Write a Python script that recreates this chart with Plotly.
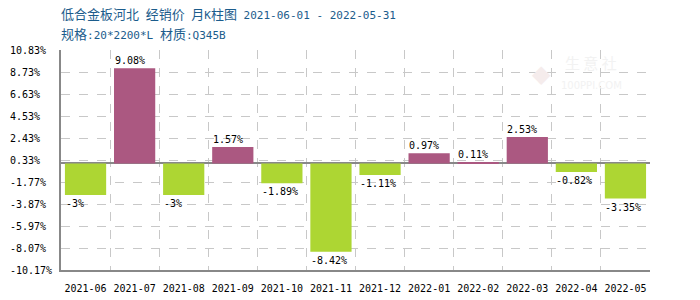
import re
import plotly.graph_objects as go

months = ["2021-06", "2021-07", "2021-08", "2021-09", "2021-10", "2021-11",
          "2021-12", "2022-01", "2022-02", "2022-03", "2022-04", "2022-05"]
changes = [-3, 9.08, -3, 1.57, -1.89, -8.42, -1.11, 0.97, 0.11, 2.53, -0.82, -3.35]
value_labels = ["-3%", "9.08%", "-3%", "1.57%", "-1.89%", "-8.42%", "-1.11%",
                "0.97%", "0.11%", "2.53%", "-0.82%", "-3.35%"]
y_ticks = [-10.17, -8.07, -5.97, -3.87, -1.77, 0.33, 2.43, 4.53, 6.63, 8.73, 10.83]
y_tick_labels = ["-10.17%", "-8.07%", "-5.97%", "-3.87%", "-1.77%", "0.33%",
                 "2.43%", "4.53%", "6.63%", "8.73%", "10.83%"]
title1 = "低合金板河北 经销价 月K柱图 2021-06-01 - 2022-05-31"
title2 = "规格:20*2200*L 材质:Q345B"

POS = "#AB5881"
NEG = "#ADD633"
idx = list(range(len(months)))


def cjk_big(s):
    return re.sub(r"([\u4e00-\u9fff]+)", r'<span style="font-size:13px">\1</span>', s)


fig = go.Figure()
fig.add_trace(go.Bar(
    x=idx, y=changes,
    marker=dict(color=[POS if v > 0 else NEG for v in changes], line=dict(width=0)),
    hoverinfo="skip",
))

mono = "DejaVu Sans Mono"
ann = []
for i, v, t in zip(idx, changes, value_labels):
    ann.append(dict(
        x=i, y=v, xref="x", yref="y", text=t, showarrow=False,
        xanchor="left", xshift=-22,
        yanchor="bottom" if v > 0 else "top",
        yshift=0 if v > 0 else -1,
        font=dict(family=mono, size=10, color="#000000"),
    ))
for yv, lab in zip(y_ticks, y_tick_labels):
    ann.append(dict(
        x=0, y=yv, xref="paper", yref="y", text=lab, showarrow=False,
        xanchor="left", yanchor="middle", xshift=-53,
        font=dict(family=mono, size=10, color="#000000"),
    ))
title_font = dict(family="DejaVu Sans Mono, Noto Sans CJK SC", size=11, color="#1B5C8C")
ann.append(dict(x=0, y=1, xref="paper", yref="paper", text=cjk_big(title1), showarrow=False,
                xanchor="left", yanchor="middle", yshift=36, xshift=-2, font=title_font))
ann.append(dict(x=0, y=1, xref="paper", yref="paper", text=cjk_big(title2), showarrow=False,
                xanchor="left", yanchor="middle", yshift=16, xshift=-2, font=title_font))
# faint watermark
ann.append(dict(x=0.9, y=0.945, xref="paper", yref="paper", text="生 意 社", showarrow=False,
                xanchor="center", yanchor="middle",
                font=dict(family="Noto Sans CJK SC", size=15, color="#F2F2F2")))
ann.append(dict(x=0.9, y=0.84, xref="paper", yref="paper", text="100PPI.COM", showarrow=False,
                xanchor="center", yanchor="middle",
                font=dict(family="DejaVu Sans", size=10, color="#F2F2F2")))
ann.append(dict(x=0.815, y=0.89, xref="paper", yref="paper", text="◆", showarrow=False,
                xanchor="center", yanchor="middle",
                font=dict(family="DejaVu Sans", size=24, color="#F5ECEC")))

fig.update_layout(
    width=700, height=300,
    margin=dict(l=61, r=50, t=50, b=30),
    paper_bgcolor="white", plot_bgcolor="white",
    showlegend=False, bargap=0.16,
    annotations=ann,
    xaxis=dict(
        range=[-0.5, len(months) - 0.5],
        tickmode="array", tickvals=idx, ticktext=months,
        tickfont=dict(family=mono, size=10, color="#000000"),
        showgrid=False, ticks="outside", ticklen=8, tickcolor="rgba(0,0,0,0)",
        showline=True, linecolor="#888888", linewidth=1.5,
        minor=dict(tick0=0.5, dtick=1, showgrid=True, gridcolor="#C8C8C8",
                   griddash="dash", gridwidth=1, ticks=""),
        zeroline=False, automargin=False,
    ),
    yaxis=dict(
        range=[y_ticks[0], y_ticks[-1]],
        tickmode="array", tickvals=y_ticks, ticktext=["" for _ in y_ticks],
        showgrid=True, gridcolor="#C8C8C8", griddash="dash", gridwidth=1,
        showline=True, linecolor="#888888", linewidth=1.5,
        zeroline=True, zerolinecolor="#888888", zerolinewidth=1.5,
        ticks="", automargin=False,
    ),
)

fig.write_html("out.html")
